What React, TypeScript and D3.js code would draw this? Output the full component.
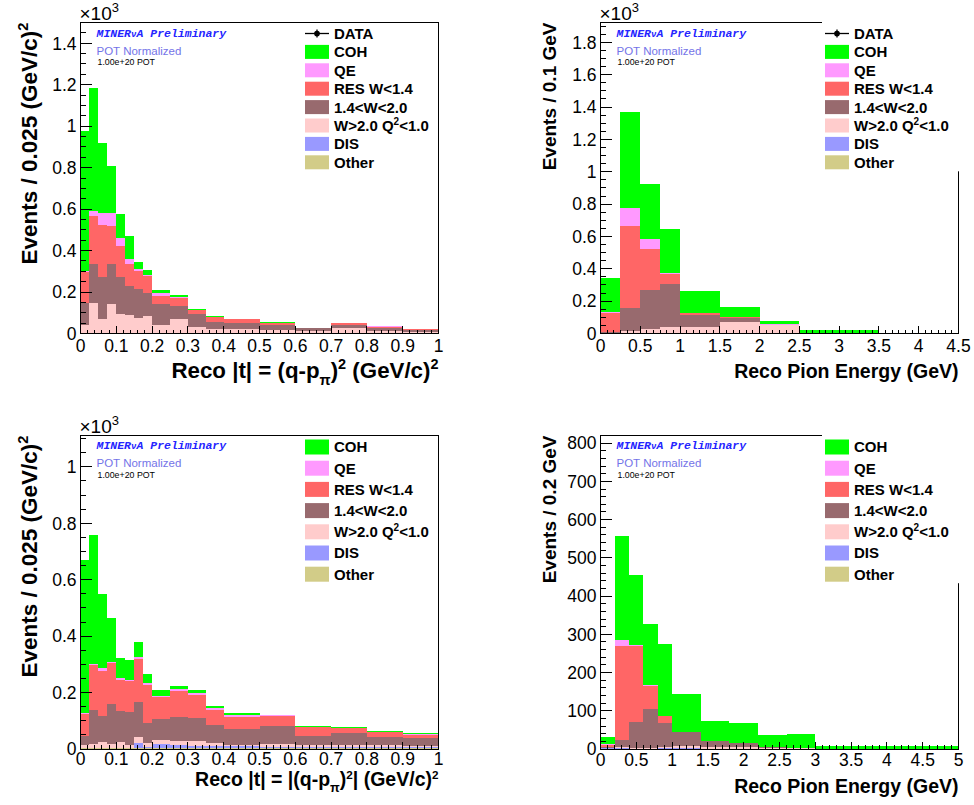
import React from "react";
import * as d3 from "d3";

// stack order, bottom -> top
const STACK_KEYS = ["Other", "DIS", "Wgt2", "W1420", "RES", "QE", "COH"];
const COLORS: Record<string, string> = {
  COH: "#00ff00",
  QE: "#ff99ff",
  RES: "#ff6666",
  W1420: "#986a6e",
  Wgt2: "#ffcccc",
  DIS: "#9999ff",
  Other: "#d2cc88",
};
// legend order, top -> bottom
const LEGEND_KEYS = ["COH", "QE", "RES", "W1420", "Wgt2", "DIS", "Other"];

// ---- top left: |t| (x10^3 events / 0.025)
const tEdges = [0, 0.025, 0.05, 0.075, 0.1, 0.125, 0.15, 0.175, 0.2, 0.25, 0.3, 0.35, 0.4, 0.5, 0.6, 0.7, 0.8, 0.9, 1.0];
const tlOther = [0.002, 0.002, 0.002, 0.002, 0.002, 0.002, 0.002, 0.002, 0.002, 0.002, 0.002, 0.002, 0.002, 0.002, 0.002, 0.002, 0.002, 0.002];
const tlDIS = [0.001, 0.001, 0.001, 0.001, 0.001, 0.001, 0.001, 0.001, 0.001, 0.001, 0.001, 0.001, 0.001, 0.001, 0.001, 0.001, 0.001, 0.001];
const tlWgt2 = [0.040, 0.145, 0.069, 0.137, 0.092, 0.084, 0.073, 0.080, 0.040, 0.069, 0.029, 0.020, 0.020, 0.016, 0.011, 0.024, 0.011, 0.005];
const tlW1420 = [0.102, 0.185, 0.201, 0.197, 0.176, 0.141, 0.141, 0.110, 0.097, 0.063, 0.060, 0.033, 0.028, 0.020, 0.011, 0.012, 0.013, 0.008];
const tlRES = [0.150, 0.232, 0.249, 0.180, 0.150, 0.109, 0.083, 0.082, 0.040, 0.037, 0.020, 0.023, 0.018, 0.013, 0.001, 0.010, 0.005, 0.006];
const tlQE = [0.005, 0.024, 0.060, 0.065, 0.040, 0.024, 0.013, 0.008, 0.016, 0.005, 0.002, 0.001, 0.001, 0.001, 0.000, 0.001, 0.003, 0.001];
const tlCOH = [0.678, 0.595, 0.337, 0.228, 0.117, 0.111, 0.032, 0.021, 0.016, 0.009, 0.002, 0.002, 0.002, 0.001, 0.001, 0.001, 0.000, 0.001];

// ---- top right: pion energy (x10^3 events / 0.1 GeV)
const eTopEdges = [0, 0.25, 0.5, 0.75, 1, 1.5, 2, 2.5, 3.5, 4.5];
const trOther = [0.002, 0.002, 0.002, 0.002, 0.002, 0.002, 0.002, 0.001, 0.001];
const trDIS = [0.001, 0.001, 0.001, 0.001, 0.001, 0.001, 0.001, 0.0, 0.0];
const trWgt2 = [0.003, 0.015, 0.024, 0.038, 0.035, 0.070, 0.047, 0.002, 0.001];
const trW1420 = [0.004, 0.141, 0.241, 0.264, 0.076, 0.024, 0.003, 0.001, 0.0];
const trRES = [0.115, 0.508, 0.256, 0.060, 0.010, 0.002, 0.002, 0.0, 0.0];
const trQE = [0.007, 0.111, 0.060, 0.006, 0.002, 0.001, 0.001, 0.0, 0.0];
const trCOH = [0.210, 0.594, 0.341, 0.277, 0.134, 0.061, 0.024, 0.016, 0.0];

// ---- bottom left: |t| (x10^3 events / 0.025)
const blOther = [0.003, 0.003, 0.003, 0.003, 0.003, 0.003, 0.003, 0.003, 0.003, 0.003, 0.003, 0.003, 0.003, 0.003, 0.003, 0.003, 0.003, 0.003];
const blDIS = [0.002, 0.002, 0.002, 0.002, 0.002, 0.002, 0.018, 0.003, 0.016, 0.012, 0.009, 0.009, 0.007, 0.003, 0.003, 0.003, 0.003, 0.003];
const blWgt2 = [0.010, 0.013, 0.019, 0.014, 0.020, 0.010, 0.021, 0.015, 0.014, 0.012, 0.015, 0.011, 0.003, 0.013, 0.009, 0.007, 0.007, 0.006];
const blW1420 = [0.032, 0.121, 0.094, 0.141, 0.110, 0.116, 0.123, 0.071, 0.074, 0.085, 0.084, 0.062, 0.058, 0.063, 0.030, 0.044, 0.028, 0.027];
const blRES = [0.078, 0.157, 0.160, 0.144, 0.110, 0.111, 0.155, 0.134, 0.076, 0.092, 0.079, 0.054, 0.044, 0.036, 0.032, 0.016, 0.018, 0.012];
const blQE = [0.002, 0.006, 0.010, 0.003, 0.005, 0.003, 0.006, 0.007, 0.006, 0.009, 0.008, 0.006, 0.005, 0.002, 0.002, 0.002, 0.003, 0.002];
const blCOH = [0.543, 0.455, 0.262, 0.158, 0.071, 0.071, 0.054, 0.032, 0.021, 0.012, 0.011, 0.009, 0.006, 0.002, 0.003, 0.003, 0.003, 0.004];

// ---- bottom right: pion energy (events / 0.2 GeV)
const eBotEdges = [0, 0.2, 0.4, 0.6, 0.8, 1.0, 1.4, 1.8, 2.2, 2.6, 3.0, 5.0];
const brOther = [1, 1, 1, 1, 1, 1, 1, 1, 1, 0, 0];
const brDIS = [1, 1, 0, 0, 1, 1, 0, 0, 0, 0, 0];
const brWgt2 = [1, 3, 2, 2, 3, 6, 5, 4, 2, 2, 1];
const brW1420 = [1, 18, 68, 101, 64, 36, 16, 10, 3, 0, 0];
const brRES = [7, 247, 199, 61, 17, 1, 0, 0, 0, 0, 0];
const brQE = [2, 15, 2, 2, 1, 0, 0, 0, 0, 0, 0];
const brCOH = [18, 273, 183, 160, 187, 99, 51, 54, 30, 37, 8];

// axis tick settings
const tlYTicks = { major: 0.2, minor: 0.05 };
const trYTicks = { major: 0.2, minor: 0.05 };
const blYTicks = { major: 0.2, minor: 0.05 };
const brYTicks = { major: 100, minor: 20 };

const FONT = "'Liberation Sans', Arial, Helvetica, sans-serif";

type PanelCfg = {
  left: number; top: number; right: number; bottom: number;
  edges: number[]; xMax: number; yMax: number;
  layers: Record<string, number[]>;
  xMajor: number; xMinor: number; yMajor: number; yMinor: number;
  exp: boolean; data: boolean; coverCorner: boolean;
  yTitle: React.ReactNode; yTitleSize: number; yTitleX: number;
  xTitle: React.ReactNode; xTitleSize: number; xTitleY: number; xLabelDy: number;
  legendY0: number; legendStep: number; swatchH: number;
};

const fmt = (v: number) => String(+v.toFixed(4));

function steps(max: number, step: number) {
  const n = Math.floor(max / step + 1e-6);
  return d3.range(0, n + 1).map((i) => +(i * step).toFixed(6));
}

function Panel({ p }: { p: PanelCfg }) {
  const x = d3.scaleLinear().domain([0, p.xMax]).range([p.left, p.right]);
  const y = d3.scaleLinear().domain([0, p.yMax]).range([p.bottom, p.top]);
  const rows = p.edges.slice(0, -1).map((_, i) => {
    const r: Record<string, number> = {};
    STACK_KEYS.forEach((k) => (r[k] = p.layers[k][i]));
    return r;
  });
  const series = d3.stack<Record<string, number>>().keys(STACK_KEYS)(rows);

  const yMaj = steps(p.yMax, p.yMajor);
  const yMin = steps(p.yMax, p.yMinor);
  const xMaj = steps(p.xMax, p.xMajor);
  const xMin = steps(p.xMax, p.xMinor);
  const legX = p.left + 224.5;
  const legendRows = (p.data ? ["DATA"] : []).concat(LEGEND_KEYS);
  const legendNames: Record<string, React.ReactNode> = {
    DATA: "DATA",
    COH: "COH",
    QE: "QE",
    RES: "RES W<1.4",
    W1420: "1.4<W<2.0",
    Wgt2: [
      "W>2.0 Q",
      <tspan key="a" dy={-6} fontSize={10}>2</tspan>,
      <tspan key="b" dy={6}>{"<1.0"}</tspan>,
    ],
    DIS: "DIS",
    Other: "Other",
  };
  const lastRow = p.legendY0 + p.legendStep * (legendRows.length - 1);

  return (
    <g fontFamily={FONT}>
      {series.map((s) => (
        <g key={s.key} fill={COLORS[s.key]} shapeRendering="crispEdges">
          {s.map((d, i) => {
            const y0 = y(d[0]);
            const y1 = y(Math.min(d[1], p.yMax));
            if (y0 - y1 <= 0) return null;
            return <rect key={i} x={x(p.edges[i])} width={x(p.edges[i + 1]) - x(p.edges[i])} y={y1} height={y0 - y1} />;
          })}
        </g>
      ))}

      {/* ticks */}
      <g stroke="#000" strokeWidth={1} shapeRendering="crispEdges">
        {yMin.map((v) => (
          <line key={"ym" + v} x1={p.left} x2={p.left + (yMaj.some((m) => Math.abs(m - v) < 1e-6) ? 11 : 5.5)} y1={y(v)} y2={y(v)} />
        ))}
        {xMin.map((v) => (
          <line key={"xm" + v} y1={p.bottom} y2={p.bottom - (xMaj.some((m) => Math.abs(m - v) < 1e-6) ? 7.5 : 3.7)} x1={x(v)} x2={x(v)} />
        ))}
      </g>
      <rect x={p.left} y={p.top} width={p.right - p.left} height={p.bottom - p.top} fill="none" stroke="#000" strokeWidth={1} shapeRendering="crispEdges" />

      {/* tick labels */}
      <g fontSize={17.5} fill="#000">
        {yMaj.map((v) => (
          <text key={"yl" + v} x={p.left - 4} y={y(v)} dy="0.36em" textAnchor="end">{fmt(v)}</text>
        ))}
        {xMaj.map((v) => (
          <text key={"xl" + v} x={x(v)} y={p.bottom + p.xLabelDy} textAnchor="middle">{fmt(v)}</text>
        ))}
      </g>
      {p.exp && (
        <text x={p.left - 1} y={p.top - 3} fontSize={19}>
          {"\u00d710"}
          <tspan dy={-8} fontSize={13}>3</tspan>
        </text>
      )}

      {/* axis titles */}
      <text transform={`translate(${p.yTitleX},${p.top}) rotate(-90)`} textAnchor="end" fontWeight="bold" fontSize={p.yTitleSize}>
        {p.yTitle}
      </text>
      <text x={p.right} y={p.xTitleY} textAnchor="end" fontWeight="bold" fontSize={p.xTitleSize}>
        {p.xTitle}
      </text>

      {/* legend */}
      {p.coverCorner && (
        <rect x={legX - 3} y={p.top - 1} width={150} height={lastRow + 10 - p.top} fill="#fff" />
      )}
      {legendRows.map((k, i) => {
        const cy = p.legendY0 + i * p.legendStep;
        return (
          <g key={k}>
            {k === "DATA" ? (
              <g stroke="#000" strokeWidth={1.3}>
                <line x1={legX} x2={legX + 24} y1={cy} y2={cy} />
                <line x1={legX + 12} x2={legX + 12} y1={cy - 4} y2={cy + 4} />
                <circle cx={legX + 12} cy={cy} r={2.2} fill="#000" />
              </g>
            ) : (
              <rect x={legX} y={cy - p.swatchH / 2} width={24} height={p.swatchH} fill={COLORS[k]} />
            )}
            <text x={legX + 29} y={cy} dy="0.36em" fontWeight="bold" fontSize={15}>{legendNames[k]}</text>
          </g>
        );
      })}

      {/* MINERvA labels */}
      <text x={p.left + 16} y={p.top + (p.data ? 14.5 : 13.5)} fontFamily="'Liberation Mono', 'DejaVu Sans Mono', monospace" fontStyle="italic" fontWeight="bold" fontSize={11.5} fill="#2424ff">
        MINER<tspan fontSize={9}>{"\u03bd"}</tspan>A Preliminary
      </text>
      <text x={p.left + 16} y={p.top + (p.data ? 32 : 31)} fontSize={11.5} fill="#7474e8">POT Normalized</text>
      <text x={p.left + 17} y={p.top + 42.5} fontSize={8.8} fill="#000">1.00e+20 POT</text>
    </g>
  );
}

const gevTitle = (size: number) => [
  "Events / 0.025 (GeV/c)",
  <tspan key="q" dy={-0.42 * size} fontSize={size * 0.65}>2</tspan>,
];
const tTitleTop = (size: number) => [
  "Reco |t| = (q-p",
  <tspan key="s" dy={0.3 * size} fontSize={size * 0.65}>{"\u03c0"}</tspan>,
  <tspan key="c" dy={-0.3 * size}>)</tspan>,
  <tspan key="p" dy={-0.4 * size} fontSize={size * 0.65}>2</tspan>,
  <tspan key="g" dy={0.4 * size}> (GeV/c)</tspan>,
  <tspan key="q" dy={-0.4 * size} fontSize={size * 0.65}>2</tspan>,
];
const tTitleBot = (size: number) => [
  "Reco |t| = |(q-p",
  <tspan key="s" dy={0.3 * size} fontSize={size * 0.65}>{"\u03c0"}</tspan>,
  <tspan key="c" dy={-0.3 * size}>)</tspan>,
  <tspan key="p" dy={-0.36 * size} fontSize={size * 0.6}>2</tspan>,
  <tspan key="g" dy={0.36 * size}>| (GeV/c)</tspan>,
  <tspan key="q" dy={-0.36 * size} fontSize={size * 0.6}>2</tspan>,
];

const panels: PanelCfg[] = [
  {
    left: 80.5, top: 22.5, right: 438.5, bottom: 333.5,
    edges: tEdges, xMax: 1, yMax: 1.5,
    layers: { Other: tlOther, DIS: tlDIS, Wgt2: tlWgt2, W1420: tlW1420, RES: tlRES, QE: tlQE, COH: tlCOH },
    xMajor: 0.1, xMinor: 0.02, yMajor: tlYTicks.major, yMinor: tlYTicks.minor,
    exp: true, data: true, coverCorner: false,
    yTitle: gevTitle(22.5), yTitleSize: 22.5, yTitleX: 37,
    xTitle: tTitleTop(22.3), xTitleSize: 22.3, xTitleY: 378, xLabelDy: 18.5,
    legendY0: 33.5, legendStep: 18.4, swatchH: 14,
  },
  {
    left: 600.5, top: 22.5, right: 958.5, bottom: 333.5,
    edges: eTopEdges, xMax: 4.5, yMax: 1.923,
    layers: { Other: trOther, DIS: trDIS, Wgt2: trWgt2, W1420: trW1420, RES: trRES, QE: trQE, COH: trCOH },
    xMajor: 0.5, xMinor: 0.5 / 6, yMajor: trYTicks.major, yMinor: trYTicks.minor,
    exp: true, data: true, coverCorner: true,
    yTitle: "Events / 0.1 GeV", yTitleSize: 19, yTitleX: 556,
    xTitle: "Reco Pion Energy (GeV)", xTitleSize: 19.5, xTitleY: 378, xLabelDy: 18.5,
    legendY0: 33.5, legendStep: 18.4, swatchH: 14,
  },
  {
    left: 80.5, top: 435.5, right: 438.5, bottom: 749,
    edges: tEdges, xMax: 1, yMax: 1.111,
    layers: { Other: blOther, DIS: blDIS, Wgt2: blWgt2, W1420: blW1420, RES: blRES, QE: blQE, COH: blCOH },
    xMajor: 0.1, xMinor: 0.02, yMajor: blYTicks.major, yMinor: blYTicks.minor,
    exp: true, data: false, coverCorner: false,
    yTitle: gevTitle(22.5), yTitleSize: 22.5, yTitleX: 37,
    xTitle: tTitleBot(19.5), xTitleSize: 19.5, xTitleY: 786, xLabelDy: 16,
    legendY0: 447, legendStep: 21.2, swatchH: 15,
  },
  {
    left: 600.5, top: 435.5, right: 958.5, bottom: 749,
    edges: eBotEdges, xMax: 5, yMax: 820,
    layers: { Other: brOther, DIS: brDIS, Wgt2: brWgt2, W1420: brW1420, RES: brRES, QE: brQE, COH: brCOH },
    xMajor: 0.5, xMinor: 0.1, yMajor: brYTicks.major, yMinor: brYTicks.minor,
    exp: false, data: false, coverCorner: true,
    yTitle: "Events / 0.2 GeV", yTitleSize: 19, yTitleX: 556,
    xTitle: "Reco Pion Energy (GeV)", xTitleSize: 19.5, xTitleY: 793, xLabelDy: 17,
    legendY0: 447, legendStep: 21.2, swatchH: 15,
  },
];

export default function App() {
  return (
    <svg width={974} height={805} style={{ position: "absolute", left: 0, top: 0, background: "#fff" }}>
      <rect width={974} height={805} fill="#fff" />
      {panels.map((p, i) => (
        <Panel key={i} p={p} />
      ))}
    </svg>
  );
}
